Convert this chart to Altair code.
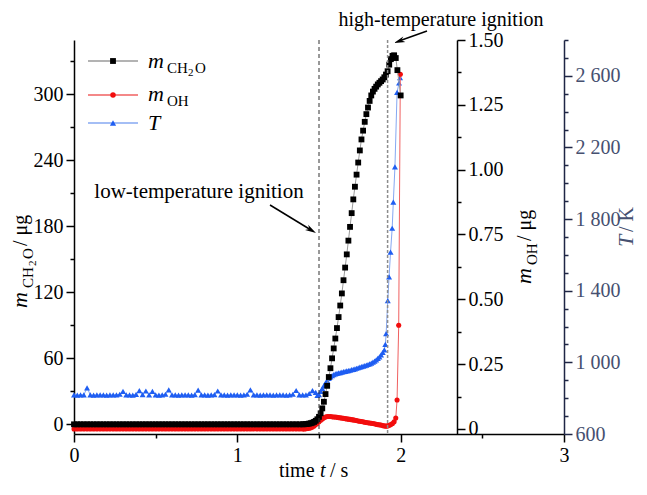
import altair as alt
import pandas as pd

FONT = "Liberation Serif"

# ---------------- data ----------------
# common time grid of the flat, pre-ignition part (s)
BASE_T = [0.00, 0.02, 0.04, 0.06, 0.08, 0.10, 0.12, 0.14, 0.16, 0.18,
          0.20, 0.22, 0.24, 0.26, 0.28, 0.30, 0.32, 0.34, 0.36, 0.38,
          0.40, 0.42, 0.44, 0.46, 0.48, 0.50, 0.52, 0.54, 0.56, 0.58,
          0.60, 0.62, 0.64, 0.66, 0.68, 0.70, 0.72, 0.74, 0.76, 0.78,
          0.80, 0.82, 0.84, 0.86, 0.88, 0.90, 0.92, 0.94, 0.96, 0.98,
          1.00, 1.02, 1.04, 1.06, 1.08, 1.10, 1.12, 1.14, 1.16, 1.18,
          1.20, 1.22, 1.24, 1.26, 1.28, 1.30, 1.32, 1.34, 1.36, 1.38,
          1.40]

# CH2O mass (ug)
CH2O_BASE_V = [0, 0, 0, 0, 0, 0, 0, 0, 0, 0,
               0, 0, 0, 0, 0, 0, 0, 0, 0, 0,
               0, 0, 0, 0, 0, 0, 0, 0, 0, 0,
               0, 0, 0, 0, 0, 0, 0, 0, 0, 0,
               0, 0, 0, 0, 0, 0, 0, 0, 0, 0,
               0, 0, 0, 0, 0, 0, 0, 0, 0, 0,
               0, 0, 0, 0, 0, 0, 0, 0, 0, 0,
               0]
CH2O_RISE_T = [1.41, 1.42, 1.43, 1.44, 1.45, 1.46, 1.47, 1.48, 1.49, 1.50,
               1.51, 1.52, 1.53, 1.54, 1.55, 1.56, 1.57, 1.58, 1.59, 1.60,
               1.61, 1.62, 1.63, 1.64, 1.65, 1.66, 1.67, 1.68, 1.69, 1.70,
               1.71, 1.72, 1.73, 1.74, 1.75, 1.76, 1.77, 1.78, 1.79, 1.80,
               1.81, 1.82, 1.83, 1.84, 1.85, 1.86, 1.87, 1.88, 1.89, 1.90,
               1.91, 1.92, 1.93, 1.94, 1.95, 1.96, 1.97, 1.98, 2.00]
CH2O_RISE_V = [0.1, 0.2, 0.4, 0.7, 1.0, 1.5, 2.2, 3.2, 4.6, 6.8,
               10.0, 14.5, 20.5, 27.5, 35, 43, 51, 60, 69, 78,
               87.5, 97.5, 108, 119, 131, 142.5, 154.5, 167, 179.5, 192,
               204.5, 216, 227, 238, 249, 259, 267, 275, 282, 288,
               294, 299, 302.5, 305, 307, 309, 310.5, 312, 313.5, 315.5,
               318, 321, 327, 332, 335, 335.5, 333, 322, 299]

# OH mass (ug)
OH_BASE_V = [0, 0, 0, 0, 0, 0, 0, 0, 0, 0,
             0, 0, 0, 0, 0, 0, 0, 0, 0, 0,
             0, 0, 0, 0, 0, 0, 0, 0, 0, 0,
             0, 0, 0, 0, 0, 0, 0, 0, 0, 0,
             0, 0, 0, 0, 0, 0, 0, 0, 0, 0,
             0, 0, 0, 0, 0, 0, 0, 0, 0, 0,
             0, 0, 0, 0, 0, 0, 0, 0, 0, 0,
             0]
OH_RISE_T = [1.41, 1.42, 1.43, 1.44, 1.45, 1.46, 1.47, 1.48, 1.49, 1.50,
             1.51, 1.52, 1.53, 1.54, 1.55, 1.56, 1.57, 1.58, 1.59, 1.60,
             1.61, 1.62, 1.63, 1.64, 1.65, 1.66, 1.67, 1.68, 1.69, 1.70,
             1.71, 1.72, 1.73, 1.74, 1.75, 1.76, 1.77, 1.78, 1.79, 1.80,
             1.81, 1.82, 1.83, 1.84, 1.85, 1.86, 1.87, 1.88, 1.89, 1.90,
             1.91, 1.92, 1.93, 1.94, 1.95, 1.96, 1.97, 1.978, 1.988, 1.998]
OH_RISE_V = [0.000, 0.001, 0.002, 0.003, 0.005, 0.008, 0.012, 0.017, 0.022, 0.028,
             0.034, 0.039, 0.043, 0.046, 0.048, 0.048, 0.048, 0.047, 0.046, 0.046,
             0.045, 0.044, 0.043, 0.042, 0.041, 0.040, 0.039, 0.038, 0.037, 0.036,
             0.035, 0.034, 0.033, 0.031, 0.030, 0.029, 0.028, 0.026, 0.025, 0.024,
             0.023, 0.022, 0.021, 0.020, 0.018, 0.017, 0.016, 0.015, 0.013, 0.012,
             0.011, 0.012, 0.014, 0.017, 0.021, 0.028, 0.042, 0.112, 0.400, 1.368]

# temperature (K)
TEMP_BASE_T = BASE_T + [1.42, 1.44, 1.46, 1.48]
TEMP_BASE_V = [818, 817, 819, 818, 858, 818, 817, 818, 819, 818,
               817, 818, 819, 818, 822, 838, 819, 818, 817, 821,
               842, 820, 840, 819, 838, 818, 817, 818, 822, 846,
               819, 818, 817, 818, 819, 818, 817, 820, 845, 819,
               818, 817, 818, 820, 840, 819, 818, 817, 818, 819,
               818, 817, 818, 822, 846, 819, 818, 817, 818, 819,
               818, 817, 818, 819, 818, 817, 818, 822, 843, 819,
               818, 819, 826, 842, 832]
TEMP_RISE_T = [1.49, 1.50, 1.51, 1.52, 1.53, 1.54, 1.55, 1.56, 1.57, 1.58,
               1.59, 1.60, 1.61, 1.62, 1.63, 1.64, 1.65, 1.66, 1.67, 1.68,
               1.69, 1.70, 1.71, 1.72, 1.73, 1.74, 1.75, 1.76, 1.77, 1.78,
               1.79, 1.80, 1.81, 1.82, 1.83, 1.84, 1.85, 1.86, 1.87, 1.88,
               1.89, 1.90, 1.906, 1.911, 1.921, 1.929, 1.938, 1.948, 1.955, 1.965,
               1.978, 1.990, 1.996]
TEMP_RISE_V = [816, 820, 838, 855, 870, 885, 898, 910, 919, 926,
               932, 936, 939, 941, 943, 946, 948, 950, 952, 954,
               956, 959, 961, 964, 967, 970, 973, 976, 979, 982,
               985, 988, 992, 996, 1001, 1007, 1014, 1022, 1031, 1042,
               1055, 1070, 1100, 1160, 1345, 1477, 1615, 1749, 1895, 2092,
               2508, 2560, 2590]

IGNITION_T = [1.50, 1.92]   # low- and high-temperature ignition instants (s)

X_TICKS = [0, 0.5, 1, 1.5, 2, 2.5, 3]
CH2O_TICKS = [0, 30, 60, 90, 120, 150, 180, 210, 240, 270, 300, 330]
OH_TICKS = [0, 0.125, 0.25, 0.375, 0.5, 0.625, 0.75, 0.875, 1.0, 1.125, 1.25, 1.375, 1.5]
T_TICKS = [600, 700, 800, 900, 1000, 1100, 1200, 1300, 1400, 1500, 1600, 1700,
           1800, 1900, 2000, 2100, 2200, 2300, 2400, 2500, 2600, 2700, 2800]

X_DOMAIN = [0, 3]
CH2O_DOMAIN = [-8.8, 349.4]
OH_DOMAIN = [-0.0193, 1.5]
T_DOMAIN = [600, 2800]

# ---------------- layout ----------------
W, H = 490, 394
PAD = {"left": 66, "top": 32, "right": 75, "bottom": 48}
X0, Y0 = 8 + PAD["left"], 8 + PAD["top"]   # page position of the plot origin

T_AXIS_COLOR = "#1f2645"
T_LABEL_COLOR = "#465070"
LABEL_SIZE = 20

df_ch2o = pd.DataFrame({"t": BASE_T + CH2O_RISE_T, "v": CH2O_BASE_V + CH2O_RISE_V})
df_oh = pd.DataFrame({"t": BASE_T + OH_RISE_T, "v": OH_BASE_V + OH_RISE_V})
df_temp = pd.DataFrame({"t": TEMP_BASE_T + TEMP_RISE_T, "v": TEMP_BASE_V + TEMP_RISE_V})
ONE = pd.DataFrame({"k": [0]})


def tick_size(test):
    return {"condition": {"test": test, "value": 4}, "value": 8}


common_axis = dict(title=None, grid=False, labelFont=FONT, labelFontSize=LABEL_SIZE,
                   labelFlush=False, labelOverlap=False, tickWidth=1.5,
                   domainWidth=1.5)

x_axis = alt.Axis(values=X_TICKS, orient="bottom", labelPadding=3,
                  labelExpr="datum.value % 1 === 0 ? format(datum.value, 'd') : ''",
                  tickSize=tick_size("datum.value % 1 !== 0"),
                  labelColor="black", tickColor="black", domainColor="black",
                  **common_axis)
ch2o_axis = alt.Axis(values=CH2O_TICKS, orient="left", labelPadding=3,
                     labelExpr="datum.value % 60 === 0 ? format(datum.value, 'd') : ''",
                     tickSize=tick_size("datum.value % 60 !== 0"),
                     labelColor="black", tickColor="black", domainColor="black",
                     **common_axis)
oh_axis = alt.Axis(values=OH_TICKS, orient="right", offset=-107, labelPadding=3,
                   labelExpr="abs(datum.value*4 - round(datum.value*4)) < 0.001 ? "
                             "(datum.value === 0 ? '0' : format(datum.value, '.2f')) : ''",
                   tickSize=tick_size("abs(datum.value*4 - round(datum.value*4)) > 0.001"),
                   labelColor="black", tickColor="black", domainColor="black",
                   **common_axis)
t_axis = alt.Axis(values=T_TICKS, orient="right", offset=0, labelPadding=3,
                  labelExpr="(datum.value - 600) % 400 === 0 ? "
                            "replace(format(datum.value, ','), ',', ' ') : ''",
                  tickSize=tick_size("(datum.value - 600) % 400 !== 0"),
                  labelColor=T_LABEL_COLOR, tickColor=T_AXIS_COLOR, domainColor=T_AXIS_COLOR,
                  **common_axis)

x_scale = alt.Scale(domain=X_DOMAIN, nice=False, zero=False)
x_enc = alt.X("t:Q", scale=x_scale, axis=x_axis)


def series(df, domain, axis, line_color, mark):
    y = alt.Y("v:Q", scale=alt.Scale(domain=domain, nice=False, zero=False), axis=axis)
    line = alt.Chart(df).mark_line(color=line_color, strokeWidth=1).encode(x=x_enc, y=y)
    pts = alt.Chart(df).mark_point(opacity=1, **mark).encode(x=x_enc, y=y)
    return alt.layer(line, pts)


temp_layer = series(df_temp, T_DOMAIN, t_axis, "#86a8f2",
                    dict(shape="triangle-up", filled=True, size=36, color="#1f5ef2"))
oh_layer = series(df_oh, OH_DOMAIN, oh_axis, "#f06060",
                  dict(shape="circle", filled=True, size=26, color="#f20d0d"))
ch2o_layer = series(df_ch2o, CH2O_DOMAIN, ch2o_axis, "#9a9a9a",
                    dict(shape="square", filled=True, size=34, color="black"))

rule_low = alt.Chart(pd.DataFrame({"t": [IGNITION_T[0]]})).mark_rule(
    color="#333333", strokeDash=[4, 3], strokeWidth=1).encode(x=x_enc)
rule_high = alt.Chart(pd.DataFrame({"t": [IGNITION_T[1]]})).mark_rule(
    color="#8c8c8c", strokeDash=[3, 2], strokeWidth=1.5).encode(x=x_enc)


def text(s, x, y, size=LABEL_SIZE, italic=False, angle=None, color="black",
         align="left", baseline="alphabetic"):
    kw = dict(text=s, font=FONT, fontSize=size, color=color, align=align, baseline=baseline)
    if italic:
        kw["fontStyle"] = "italic"
    if angle is not None:
        kw["angle"] = angle
    return alt.Chart(ONE).mark_text(**kw).encode(x=alt.value(x - X0), y=alt.value(y - Y0))


def seg(x1, y1, x2, y2, color="black", width=1.5):
    return alt.Chart(ONE).mark_rule(color=color, strokeWidth=width).encode(
        x=alt.value(x1 - X0), y=alt.value(y1 - Y0), x2=alt.value(x2 - X0), y2=alt.value(y2 - Y0))


ARROW = "M0,0L-2,-0.55L-1.4,0L-2,0.55Z"


def arrowhead(x, y, angle):
    return alt.Chart(ONE).mark_point(shape=ARROW, filled=True, size=121, color="black",
                                     opacity=1, angle=angle).encode(
        x=alt.value(x - X0), y=alt.value(y - Y0))


def marker(x, y, shape, color, size):
    return alt.Chart(ONE).mark_point(shape=shape, filled=True, size=size, color=color,
                                     opacity=1).encode(x=alt.value(x - X0), y=alt.value(y - Y0))


deco = [
    # annotations
    text("low-temperature ignition", 199, 198, size=21, align="center"),
    seg(270, 205, 311, 230), arrowhead(316, 233, 31),
    text("high-temperature ignition", 441, 26, size=20, align="center"),
    seg(427, 31, 399, 41), arrowhead(394, 43, 160),
    # legend
    seg(88, 61, 138, 61, "#9a9a9a", 1.5), marker(113, 61, "square", "black", 34),
    seg(88, 95, 138, 95, "#f06060", 1.5), marker(113, 95, "circle", "#f20d0d", 30),
    seg(88, 123, 138, 123, "#86a8f2", 1.5), marker(113, 123, "triangle-up", "#1f5ef2", 38),
    text("m", 148, 68, size=22, italic=True),
    text("CH", 167, 73, size=15), text("2", 188, 76, size=11), text("O", 195, 73, size=15),
    text("m", 148, 101, size=22, italic=True), text("OH", 167, 106, size=15),
    text("T", 148, 130, size=22, italic=True),
    # x title
    text("time ", 279, 477), text("t", 320, 477, italic=True), text("/ s", 330, 477),
    # left title (rotated)
    text("m", 27, 308, size=22, italic=True, angle=270),
    text("CH", 33, 288, size=15, angle=270), text("2", 36, 266, size=11, angle=270),
    text("O", 33, 259, size=15, angle=270),
    text("/ μg", 27, 246, angle=270),
    # middle title
    text("m", 531, 284, size=22, italic=True, angle=270),
    text("OH", 537, 265, size=15, angle=270),
    text("/ μg", 531, 241, angle=270),
    # right title
    text("T", 633, 247, size=22, italic=True, angle=270, color=T_LABEL_COLOR),
    text("/ K", 633, 232, angle=270, color=T_LABEL_COLOR),
]

chart = alt.layer(
    temp_layer, oh_layer, ch2o_layer, rule_low, rule_high, *deco
).resolve_scale(y="independent").properties(
    width=W, height=H,
    autosize=alt.AutoSizeParams(type="none"),
    padding=PAD,
    background="white",
).configure_view(strokeWidth=0).configure_text(font=FONT)

chart.save("out.html", embed_options={"renderer": "svg", "actions": False})
